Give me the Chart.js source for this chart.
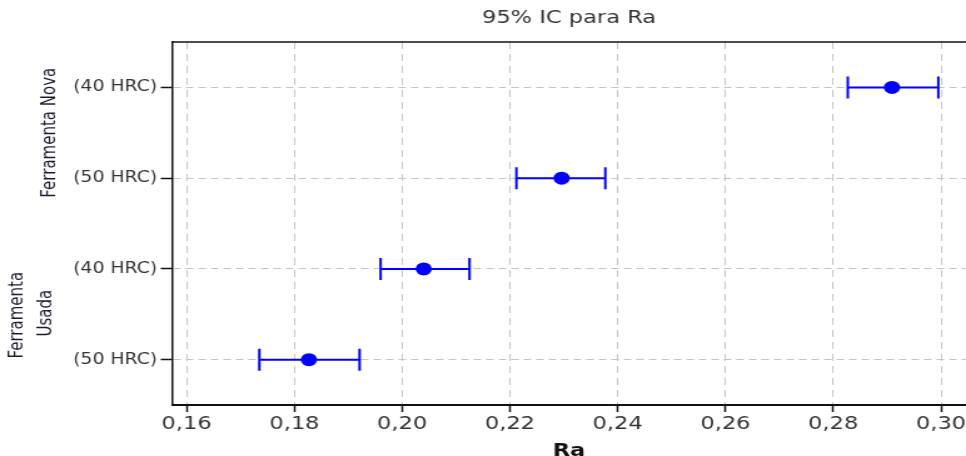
<!DOCTYPE html>
<html>
<head>
<meta charset="utf-8">
<script src="https://cdn.jsdelivr.net/npm/chart.js@4/dist/chart.umd.min.js"></script>
<style>
    html, body { margin: 0; padding: 0; background: #ffffff; overflow: hidden; }
</style>
</head>
<body>
<!-- drawn at 772px wide and stretched to 966px, like the reference picture -->
<canvas id="ic_chart" width="772" height="456" style="width: 966px; height: 456px;"></canvas>
<script>
const row_positions = [0, 1, 2, 3];
const row_labels = ['(40 HRC)', '(50 HRC)', '(40 HRC)', '(50 HRC)'];
const group_nova = ['Ferramenta Nova'];
const group_usada = ['Ferramenta', 'Usada'];

const ra_mean = [0.2909, 0.2296, 0.2040, 0.1827];
const ra_lower = [0.2827, 0.2212, 0.1960, 0.1735];
const ra_upper = [0.2995, 0.2377, 0.2125, 0.1921];

const x_ticks = [0.16, 0.18, 0.20, 0.22, 0.24, 0.26, 0.28, 0.30];

const ic_palette = {
    blue: '#0000ff',
    grid: '#c4c4c4',
    axis: '#111111',
    text: '#333333',
    group: '#1c1c2c',
};

const ic_error_bars = {
    id: 'ic_error_bars',
    beforeDatasetsDraw(chart) {
        const ctx = chart.ctx;
        const x_scale = chart.scales.x;
        const y_scale = chart.scales.y;

        ctx.save();
        ctx.strokeStyle = ic_palette.blue;
        ctx.lineWidth = 2;

        for (let idx = 0; idx < ra_mean.length; idx += 1) {
            const y_px = y_scale.getPixelForValue(row_positions[idx]);
            const lo_px = x_scale.getPixelForValue(ra_lower[idx]);
            const hi_px = x_scale.getPixelForValue(ra_upper[idx]);

            ctx.beginPath();
            ctx.moveTo(lo_px, y_px);
            ctx.lineTo(hi_px, y_px);
            ctx.moveTo(lo_px, y_px - 11);
            ctx.lineTo(lo_px, y_px + 11);
            ctx.moveTo(hi_px, y_px - 11);
            ctx.lineTo(hi_px, y_px + 11);
            ctx.stroke();
        }
        ctx.restore();
    },
};

const ic_frame_and_groups = {
    id: 'ic_frame_and_groups',
    afterDraw(chart) {
        const ctx = chart.ctx;
        const area = chart.chartArea;
        const y_scale = chart.scales.y;

        ctx.save();
        ctx.strokeStyle = ic_palette.axis;
        ctx.lineWidth = 1.5;
        ctx.beginPath();
        ctx.moveTo(area.left, area.top);
        ctx.lineTo(area.right, area.top);
        ctx.stroke();

        ctx.fillStyle = ic_palette.group;
        ctx.font = '15px "DejaVu Sans"';
        ctx.textAlign = 'center';
        ctx.textBaseline = 'middle';

        const nova_mid = (y_scale.getPixelForValue(0) + y_scale.getPixelForValue(1)) / 2;
        const usada_mid = (y_scale.getPixelForValue(2) + y_scale.getPixelForValue(3)) / 2;

        const draw_vertical = function (text, x, y) {
            ctx.save();
            ctx.translate(x, y);
            ctx.rotate(-Math.PI / 2);
            ctx.fillText(text, 0, 0);
            ctx.restore();
        };

        draw_vertical(group_nova[0], 40.5, nova_mid);
        draw_vertical(group_usada[0], 14.5, usada_mid + 1);
        draw_vertical(group_usada[1], 37.5, usada_mid - 1);
        ctx.restore();
    },
};

new Chart(document.getElementById('ic_chart').getContext('2d'), {
    type: 'scatter',
    data: {
        datasets: [
            {
                label: 'Ra',
                data: ra_mean.map(function (v, idx) {
                    return { x: v, y: row_positions[idx] };
                }),
                backgroundColor: ic_palette.blue,
                borderColor: ic_palette.blue,
                pointStyle: 'circle',
                pointRadius: 6.5,
                pointBorderWidth: 0,
            },
        ],
    },
    options: {
        responsive: false,
        animation: false,
        events: [],
        layout: { autoPadding: false, padding: { left: 0, right: 0, top: 0, bottom: 0 } },
        plugins: {
            legend: { display: false },
            tooltip: { enabled: false },
            title: {
                display: true,
                text: '95% IC para Ra',
                fullSize: false,
                color: '#333333',
                font: { family: '"DejaVu Sans"', size: 18, weight: 'normal' },
                padding: { top: 8, bottom: 12.4 },
            },
        },
        scales: {
            x: {
                type: 'linear',
                min: 0.1573,
                max: 0.30464,
                afterBuildTicks(scale) {
                    scale.ticks = x_ticks.map(function (v) { return { value: v }; });
                },
                afterFit(scale) {
                    scale.height = 51;
                    scale.paddingLeft = 0;
                    scale.paddingRight = 0;
                },
                ticks: {
                    color: ic_palette.text,
                    padding: 2,
                    font: { family: '"DejaVu Sans"', size: 18 },
                    callback(value) {
                        return Number(value).toFixed(2).replace('.', ',');
                    },
                },
                grid: {
                    color: ic_palette.grid,
                    lineWidth: 1,
                    tickLength: 7,
                    tickColor: ic_palette.axis,
                    tickWidth: 1.5,
                },
                border: { color: ic_palette.axis, width: 2, dash: [7, 5] },
                title: {
                    display: true,
                    text: 'Ra',
                    color: '#111111',
                    font: { family: '"DejaVu Sans"', size: 18, weight: 'bold' },
                    padding: { top: 0, bottom: -6 },
                },
            },
            y: {
                type: 'linear',
                reverse: true,
                min: -0.5,
                max: 3.5,
                afterBuildTicks(scale) {
                    scale.ticks = row_positions.map(function (v) { return { value: v }; });
                },
                afterFit(scale) {
                    scale.width = 137.5;
                },
                ticks: {
                    color: ic_palette.text,
                    padding: 3,
                    font: { family: '"DejaVu Sans"', size: 15 },
                    callback(value, idx) {
                        return row_labels[idx];
                    },
                },
                grid: {
                    color: ic_palette.grid,
                    lineWidth: 1,
                    tickLength: 9,
                    tickColor: ic_palette.axis,
                    tickWidth: 1.5,
                },
                border: { color: ic_palette.axis, width: 1.5, dash: [6, 4] },
            },
        },
    },
    plugins: [ic_error_bars, ic_frame_and_groups],
});
</script>
</body>
</html>
